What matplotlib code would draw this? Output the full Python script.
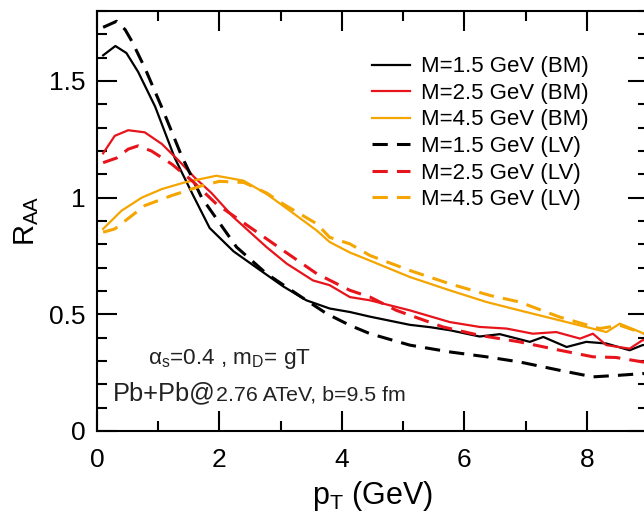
import numpy as np
import matplotlib
matplotlib.use("Agg")
import matplotlib.pyplot as plt
from matplotlib.ticker import MultipleLocator

plt.rcParams["font.family"] = ["Liberation Sans", "DejaVu Sans"]
plt.rcParams["mathtext.fontset"] = "custom"
plt.rcParams["mathtext.rm"] = "Liberation Sans"
plt.rcParams["mathtext.it"] = "Liberation Sans:italic"

# --- R_AA vs pT, heavy quarks, BM and LV energy loss ---
pt_bm15 = [0.1, 0.3, 0.48, 0.67, 0.95, 1.27, 1.57, 1.84, 2.23, 2.66, 3.04, 3.42, 3.8, 4.13,
           4.46, 5.11, 5.44, 5.76, 6.25, 6.58, 7.07, 7.29, 7.67, 7.99, 8.32, 8.7, 8.91, 9.0]
raa_bm15 = [1.61, 1.65, 1.62, 1.54, 1.39, 1.17, 1.01, 0.87, 0.77, 0.69, 0.62, 0.56, 0.525, 0.51,
            0.49, 0.455, 0.445, 0.432, 0.405, 0.415, 0.382, 0.403, 0.36, 0.382, 0.375, 0.346, 0.368, 0.37]

pt_bm25 = [0.1, 0.29, 0.51, 0.78, 1.06, 1.33, 1.6, 1.87, 2.23, 2.77, 3.1, 3.53, 3.8, 4.13, 4.46,
           5.11, 5.76, 6.25, 6.69, 7.12, 7.5, 7.89, 8.1, 8.32, 8.7, 8.91, 9.0]
raa_bm25 = [1.19, 1.265, 1.289, 1.28, 1.23, 1.16, 1.085, 1.02, 0.916, 0.788, 0.717, 0.645, 0.625,
            0.574, 0.56, 0.517, 0.467, 0.446, 0.439, 0.417, 0.424, 0.396, 0.417, 0.368, 0.353, 0.389, 0.39]

pt_bm45 = [0.1, 0.4, 0.73, 1.06, 1.44, 1.95, 2.39, 2.77, 3.15, 3.59, 3.8, 4.13, 4.46, 5.11, 5.76,
           6.36, 6.9, 7.56, 8.32, 8.54, 8.91, 9.0]
raa_bm45 = [0.866, 0.944, 1.0, 1.037, 1.066, 1.094, 1.073, 1.016, 0.944, 0.859, 0.81, 0.765, 0.73,
            0.66, 0.603, 0.553, 0.517, 0.474, 0.424, 0.46, 0.42, 0.41]

pt_lv15 = [0.1, 0.32, 0.46, 0.57, 0.78, 1.06, 1.38, 1.71, 2.28, 2.77, 3.26, 3.75, 4.13, 4.46,
           5.11, 5.76, 6.36, 6.9, 7.56, 8.1, 8.54, 8.91, 9.0]
raa_lv15 = [1.73, 1.756, 1.72, 1.67, 1.557, 1.386, 1.18, 1.0, 0.788, 0.674, 0.588, 0.503, 0.453,
            0.417, 0.368, 0.339, 0.318, 0.296, 0.26, 0.232, 0.239, 0.246, 0.246]

pt_lv25 = [0.1, 0.32, 0.51, 0.67, 0.89, 1.22, 1.55, 1.95, 2.5, 3.04, 3.59, 4.13, 4.46, 4.89,
           5.65, 6.25, 6.9, 7.56, 8.1, 8.48, 8.91, 9.0]
raa_lv25 = [1.15, 1.17, 1.208, 1.222, 1.2, 1.144, 1.073, 0.973, 0.873, 0.774, 0.674, 0.603, 0.574,
            0.517, 0.446, 0.41, 0.382, 0.346, 0.318, 0.315, 0.296, 0.295]

pt_lv45 = [0.1, 0.29, 0.78, 1.22, 1.71, 2.0, 2.4, 2.77, 3.04, 3.59, 3.8, 4.13, 4.46, 5.11, 5.76,
           6.42, 6.9, 7.56, 8.21, 8.54, 8.91, 9.0]
raa_lv45 = [0.852, 0.866, 0.966, 1.009, 1.051, 1.07, 1.065, 1.02, 0.973, 0.888, 0.83, 0.802, 0.752,
            0.688, 0.631, 0.581, 0.553, 0.488, 0.439, 0.453, 0.42, 0.41]

BLACK = "black"
RED = "#e8141c"
ORANGE = "#f5a500"

fig = plt.figure(figsize=(6.44, 5.14), dpi=100)
ax = fig.add_axes([97 / 644, 83 / 514, 551 / 644, 420 / 514])

solid = dict(lw=1.6)
dashed = dict(lw=2.2, dashes=(5, 3))
ax.plot(pt_bm15, raa_bm15, color=BLACK, label="M=1.5 GeV (BM)", **solid)
ax.plot(pt_bm25, raa_bm25, color=RED, label="M=2.5 GeV (BM)", **solid)
ax.plot(pt_bm45, raa_bm45, color=ORANGE, label="M=4.5 GeV (BM)", **solid)
ax.plot(pt_lv15, raa_lv15, color=BLACK, label="M=1.5 GeV (LV)", **dashed)
ax.plot(pt_lv25, raa_lv25, color=RED, label="M=2.5 GeV (LV)", **dashed)
ax.plot(pt_lv45, raa_lv45, color=ORANGE, label="M=4.5 GeV (LV)", **dashed)

ax.set_xlim(0, 9)
ax.set_ylim(0, 1.8)
ax.xaxis.set_major_locator(MultipleLocator(2))
ax.xaxis.set_minor_locator(MultipleLocator(1))
ax.yaxis.set_major_locator(MultipleLocator(0.5))
ax.yaxis.set_minor_locator(MultipleLocator(0.1))
ax.set_yticks([0, 0.5, 1, 1.5])
ax.set_yticklabels(["0", "0.5", "1", "1.5"])

for s in ax.spines.values():
    s.set_linewidth(1.5)
ax.tick_params(which="both", direction="in", top=True, right=True, width=1.5, labelsize=19)
ax.tick_params(which="major", length=14.4)
ax.tick_params(which="minor", length=7.2)
ax.tick_params(axis="x", pad=12)
ax.tick_params(axis="y", pad=8)

ax.set_xlabel(r"p$_\mathrm{T}$ (GeV)", fontsize=22, labelpad=5)
ax.set_ylabel(r"R$_\mathrm{AA}$", fontsize=21, labelpad=6)

leg = ax.legend(loc="upper left", bbox_to_anchor=(0.50, 0.892), frameon=False, fontsize=16,
                handlelength=1.7, handletextpad=0.5, labelspacing=0.25, borderaxespad=0,
                borderpad=0)

ax.text(0.093, 0.16, r"α$_\mathrm{s}$=0.4 , m$_\mathrm{D}$= gT", transform=ax.transAxes,
        fontsize=16.2, color="#222222")
t1 = ax.text(0.029, 0.074, "Pb+Pb@", transform=ax.transAxes, fontsize=18.3, color="#222222")
ax.annotate("2.76 ATeV, b=9.5 fm", xy=(1, 0), xycoords=t1, fontsize=15.4,
            color="#222222", va="bottom")

fig.savefig("out.png", dpi=100)
